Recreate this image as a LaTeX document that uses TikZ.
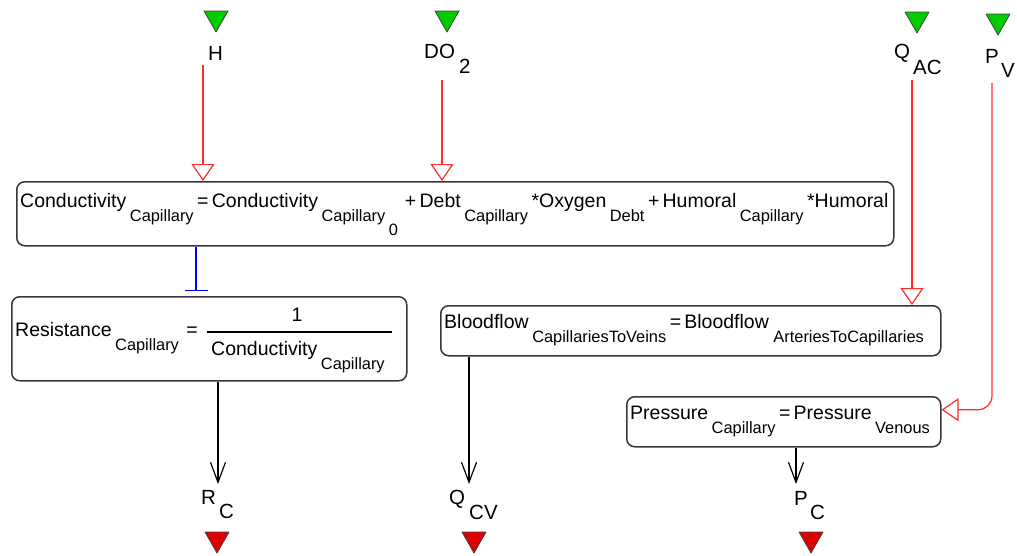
\documentclass[tikz,border=0pt]{standalone}
\usepackage{fontspec}
\setmainfont{Liberation Sans}
\usetikzlibrary{arrows.meta}

\definecolor{srcgreen}{RGB}{0,204,0}
\definecolor{sinkred}{RGB}{222,0,0}
\definecolor{inflred}{RGB}{255,45,45}
\definecolor{boxgray}{RGB}{55,55,55}
\definecolor{linkblue}{RGB}{0,0,255}

% font sizes for equation text and subscripts
\newcommand\mainsize{\fontsize{19.5}{22}\selectfont}
\newcommand\subsize{\fontsize{16.4}{18}\selectfont}
\newcommand\lo[1]{\hspace{3.5pt}\raisebox{-14pt}{\subsize #1}\hspace{3.5pt}}

\tikzset{
  eqbox/.style={draw=boxgray, line width=1.5pt, rounded corners=8pt, anchor=north west, inner sep=0pt},
  eqtext/.style={anchor=base west, inner sep=0pt, font=\mainsize},
  varname/.style={anchor=base west, inner sep=0pt, font=\fontsize{20.5}{22}\selectfont},
  varindex/.style={anchor=base west, inner sep=0pt, font=\fontsize{20.5}{22}\selectfont},
  infl/.style={draw=inflred, line width=1.2pt, -{Triangle[open, length=17pt, width=23pt]}},
  outflow/.style={draw=black, line width=1.2pt, -{Straight Barb[length=20pt, width=15pt]}},
  link/.style={draw=linkblue, line width=1.2pt, -{Bar[width=23pt]}, shorten >=5pt},
  srcmk/.style={fill=srcgreen, draw=black!75, line width=0.8pt, line join=round},
  sinkmk/.style={fill=sinkred, draw=black!75, line width=0.8pt, line join=round},
}

% downward pointing marker triangle: x centre, top y, style
\newcommand\flowmark[3]{\path[#3] (#1-12,#2) -- (#1+12,#2) -- (#1,#2+21) -- cycle;}

\begin{document}
\begin{tikzpicture}[x=1pt, y=-1pt]
\useasboundingbox (0,0) rectangle (1017,555);

% source and sink markers
\flowmark{216}{11}{srcmk}
\flowmark{447}{11}{srcmk}
\flowmark{917}{12}{srcmk}
\flowmark{998}{14}{srcmk}
\flowmark{217}{532}{sinkmk}
\flowmark{474}{532}{sinkmk}
\flowmark{811}{532}{sinkmk}

% input variable names
\node[varname] (hlab) at (208,60) {H};
\node[varname] (dolab) at (424,58) {DO};
\node[varindex] (dosub) at (459,73) {2};
\node[varname] (qaclab) at (894,58) {Q};
\node[varindex] (qacsub) at (913,74) {AC};
\node[varname] (pvlab) at (985,63) {P};
\node[varindex] (pvsub) at (1001,77) {V};

% output variable names
\node[varname] (rclab) at (201,504) {R};
\node[varindex] (rcsub) at (219,518) {C};
\node[varname] (qcvlab) at (449,504) {Q};
\node[varindex] (qcvsub) at (469,519) {CV};
\node[varname] (pclab) at (794,505) {P};
\node[varindex] (pcsub) at (810,519) {C};

% equation boxes
\node[eqbox, minimum width=877pt, minimum height=64pt] (cond) at (16,181) {};
\node[eqbox, minimum width=395pt, minimum height=84pt] (res) at (11,296) {};
\node[eqbox, minimum width=500pt, minimum height=50pt] (blood) at (440,305) {};
\node[eqbox, minimum width=314pt, minimum height=50pt] (pres) at (626,396) {};

% equation texts
\node[eqtext] (condtxt) at (20,207)
  {Conductivity\lo{Capillary}=\,Conductivity\lo{Capillary\lo{0}}+\,Debt\lo{Capillary}*Oxygen\lo{Debt}+\,Humoral\lo{Capillary}*Humoral};
\node[eqtext] (restxt) at (15,336) {Resistance\lo{Capillary}\hspace{4pt}=};
\node[eqtext, anchor=base] (resnum) at (297,321) {1};
\draw[line width=1.2pt] (207,332) -- (392,332);
\node[eqtext] (resden) at (211,355) {Conductivity\lo{Capillary}};
\node[eqtext] (bloodtxt) at (444,328)
  {Bloodflow\lo{CapillariesToVeins}=\,Bloodflow\lo{\hspace{1pt}ArteriesToCapillaries}};
\node[eqtext] (prestxt) at (630,419) {Pressure\lo{Capillary}=\,Pressure\lo{Venous}};

% connector columns and free ends
\coordinate (hx) at (203,65);
\coordinate (dox) at (442,80);
\coordinate (qacx) at (912,80);
\coordinate (pvx) at (992,83);
\coordinate (bx) at (196,0);
\coordinate (rend) at (218,484);
\coordinate (qend) at (469,484);
\coordinate (pend) at (796,484);

% influences
\draw[infl] (hx) -- (hx |- cond.north);
\draw[infl] (dox) -- (dox |- cond.north);
\draw[infl] (qacx) -- (qacx |- blood.north);
\draw[infl, rounded corners=14pt] (pvx) |- ([yshift=12pt]pres.east);

% link between conductivity and resistance
\draw[link] (bx |- cond.south) -- (bx |- res.north);

% outflows
\draw[outflow] (rend |- res.south) -- (rend);
\draw[outflow] (qend |- blood.south) -- (qend);
\draw[outflow] (pend |- pres.south) -- (pend);
\end{tikzpicture}
\end{document}
